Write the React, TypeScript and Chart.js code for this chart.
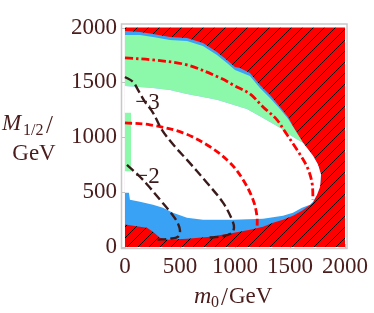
import React, { useEffect, useRef } from "react";
import { Chart, registerables } from "chart.js";

Chart.register(...registerables);

const xTickValues = [0, 500, 1000, 1500, 2000];
const yTickValues = [0, 500, 1000, 1500, 2000];

// scanned parameter plane (red hatched = excluded)
const scanRange = [[0, 0], [2000, 0], [2000, 2000], [0, 2000]];

// outer edge of the non-excluded region (blue)
const blueRegion = [
  [0, 1968], [136, 1959], [255, 1941], [409, 1914], [564, 1905], [709, 1859],
  [836, 1777], [927, 1705], [1000, 1641], [1045, 1632], [1136, 1586], [1227, 1477],
  [1318, 1386], [1409, 1277], [1482, 1186], [1545, 1068], [1618, 950], [1709, 832],
  [1755, 750], [1782, 659], [1773, 550], [1745, 477], [1709, 405], [1609, 332],
  [1527, 286], [1436, 250], [1345, 223], [1255, 186], [1136, 159], [955, 123],
  [773, 95], [564, 77], [382, 68], [318, 86], [255, 141], [200, 177], [136, 186], [0, 205],
];

// upper green band
const greenUpperRegion = [
  [0, 1932], [136, 1932], [255, 1914], [409, 1886], [564, 1877], [709, 1832],
  [836, 1750], [927, 1677], [1000, 1614], [1136, 1559], [1227, 1450], [1318, 1359],
  [1409, 1259], [1482, 1168], [1545, 1068], [1618, 950],
  [1555, 986], [1482, 1032], [1409, 1086], [1255, 1177], [1109, 1259], [955, 1305],
  [836, 1341], [709, 1368], [564, 1395], [409, 1432], [255, 1450], [136, 1459], [0, 1468],
];

// white interior
const whiteRegion = [
  [0, 1468], [136, 1459], [255, 1450], [409, 1432], [564, 1395], [709, 1368],
  [836, 1341], [955, 1305], [1109, 1259], [1255, 1177], [1409, 1086], [1482, 1032],
  [1555, 986], [1618, 950], [1709, 832], [1755, 750], [1782, 659], [1773, 550],
  [1745, 477], [1709, 414], [1682, 386], [1609, 359], [1527, 314], [1436, 286],
  [1255, 259], [982, 250], [709, 250], [564, 268], [436, 314], [345, 359],
  [255, 386], [136, 414], [45, 432], [36, 495], [0, 495],
];

// small green strip at the left edge
const greenStripRegion = [[0, 1223], [55, 1223], [55, 691], [0, 691]];

// contours
const contourDashDot = [
  [0, 1723], [255, 1705], [564, 1659], [864, 1541], [1000, 1468], [1136, 1395],
  [1255, 1277], [1382, 1159], [1455, 1050], [1564, 886], [1655, 732], [1700, 586], [1709, 432],
];
const contourDashed = [
  [0, 1132], [227, 1114], [527, 1041], [773, 914], [955, 768], [1073, 614],
  [1164, 432], [1200, 277], [1200, 150],
];
const contourMinus3 = [
  [0, 1550], [73, 1505], [118, 1432], [182, 1323], [255, 1223], [336, 1068],
  [455, 914], [564, 795], [745, 586], [891, 405], [973, 250], [991, 177],
  [964, 123], [864, 95], [755, 86],
];
const contourMinus2 = [
  [18, 750], [136, 641], [227, 541], [318, 432], [409, 323], [473, 232],
  [500, 150], [482, 95], [409, 77], [291, 68],
];

const contourLabels = ["\u22123", "\u22122"];
const contourLabelPos = [[205, 1314], [205, 641]];

const TEXT = "#4a1c1c";
const SERIF = '"Liberation Serif", "Times New Roman", serif';
const RED = "#ff0000";
const BLUE = "#3aa2f4";
const GREEN = "#8cf8aa";
const DARK = "#3a1a1a";

const toPts = (arr: number[][]) => arr.map(([x, y]) => ({ x, y }));

function makeHatch(): CanvasPattern | string {
  const s = 11;
  const c = document.createElement("canvas");
  c.width = s;
  c.height = s;
  const g = c.getContext("2d");
  if (!g) return RED;
  g.fillStyle = RED;
  g.fillRect(0, 0, s, s);
  g.strokeStyle = "#000000";
  g.lineWidth = 1;
  g.beginPath();
  g.moveTo(-1, s + 1);
  g.lineTo(s + 1, -1);
  g.moveTo(-1, 1);
  g.lineTo(1, -1);
  g.moveTo(s - 1, s + 1);
  g.lineTo(s + 1, s - 1);
  g.stroke();
  return g.createPattern(c, "repeat") || RED;
}

function region(data: number[][], color: any, order: number) {
  return {
    data: toPts(data),
    showLine: true,
    fill: "shape",
    backgroundColor: color,
    borderColor: "rgba(0,0,0,0)",
    borderWidth: 0,
    pointRadius: 0,
    tension: 0,
    order,
  };
}

function contour(data: number[][], color: string, width: number, dash: number[], order: number) {
  return {
    data: toPts(data),
    showLine: true,
    fill: false,
    borderColor: color,
    borderWidth: width,
    borderDash: dash,
    borderCapStyle: "butt",
    pointRadius: 0,
    tension: 0.35,
    order,
  };
}

const framePlugin = {
  id: "frameAndTitles",
  beforeDatasetsDraw(chart: any) {
    const { ctx, chartArea: a, scales } = chart;
    ctx.save();
    ctx.strokeStyle = "#c4c4c4";
    ctx.lineWidth = 1;
    ctx.beginPath();
    for (const v of xTickValues) {
      const px = Math.round(scales.x.getPixelForValue(v)) + 0.5;
      ctx.moveTo(px, a.bottom);
      ctx.lineTo(px, a.bottom - 4);
    }
    for (const v of yTickValues) {
      const py = Math.round(scales.y.getPixelForValue(v)) + 0.5;
      ctx.moveTo(a.left, py);
      ctx.lineTo(a.left + 4, py);
    }
    ctx.stroke();
    ctx.restore();
  },
  afterDraw(chart: any) {
    const { ctx, chartArea: a, scales } = chart;
    ctx.save();
    ctx.strokeStyle = "#c8c8c8";
    ctx.lineWidth = 1.5;
    ctx.strokeRect(a.left - 0.5, a.top, a.right - a.left + 0.5, a.bottom - a.top + 0.5);

    // contour labels
    ctx.fillStyle = DARK;
    ctx.font = `23px ${SERIF}`;
    ctx.textAlign = "center";
    ctx.textBaseline = "middle";
    contourLabels.forEach((t, i) => {
      const [mx, my] = contourLabelPos[i];
      ctx.fillText(t, scales.x.getPixelForValue(mx), scales.y.getPixelForValue(my));
    });

    // axis titles
    ctx.fillStyle = TEXT;
    ctx.textAlign = "left";
    ctx.textBaseline = "alphabetic";
    ctx.font = `italic 23px ${SERIF}`;
    ctx.fillText("M", 2, 130);
    ctx.font = `16px ${SERIF}`;
    ctx.fillText("1/2", 23, 135);
    ctx.font = `25px ${SERIF}`;
    ctx.fillText("/", 46, 133);
    ctx.font = `23px ${SERIF}`;
    ctx.textAlign = "center";
    ctx.fillText("GeV", 34, 160);

    ctx.textAlign = "left";
    ctx.font = `italic 24px ${SERIF}`;
    ctx.fillText("m", 194, 303);
    ctx.font = `16px ${SERIF}`;
    ctx.fillText("0", 211, 307);
    ctx.font = `25px ${SERIF}`;
    ctx.fillText("/", 221, 305);
    ctx.font = `23px ${SERIF}`;
    ctx.fillText("GeV", 229, 303);
    ctx.restore();
  },
};

export default function App() {
  const ref = useRef<HTMLCanvasElement | null>(null);

  useEffect(() => {
    document.body.style.margin = "0";
    const canvas = ref.current;
    if (!canvas) return;
    const hatch = makeHatch();
    const chart = new Chart(canvas, {
      type: "scatter",
      data: {
        datasets: [
          contour(contourMinus2, DARK, 2.4, [9, 4], 1) as any,
          contour(contourMinus3, DARK, 2.4, [9, 4], 2) as any,
          contour(contourDashed, RED, 2.8, [7, 3.5], 3) as any,
          contour(contourDashDot, RED, 2.8, [8, 3, 2.5, 3], 4) as any,
          region(greenStripRegion, GREEN, 5) as any,
          region(whiteRegion, "#ffffff", 6) as any,
          region(greenUpperRegion, GREEN, 7) as any,
          region(blueRegion, BLUE, 8) as any,
          region(scanRange, hatch, 9) as any,
        ],
      },
      options: {
        responsive: false,
        devicePixelRatio: 1,
        animation: false,
        events: [],
        layout: { padding: { top: 24, right: 27, left: 0, bottom: 0 } },
        plugins: { legend: { display: false }, tooltip: { enabled: false } },
        scales: {
          x: {
            type: "linear",
            min: -27,
            max: 2018,
            grid: { display: false, drawTicks: false },
            border: { display: false },
            afterBuildTicks: (axis: any) => {
              axis.ticks = xTickValues.map((v) => ({ value: v }));
            },
            afterFit: (scale: any) => {
              scale.height = 65;
            },
            ticks: {
              autoSkip: false,
              maxRotation: 0,
              padding: 5,
              color: TEXT,
              font: { family: SERIF, size: 23 },
              callback: (v: any) => String(v),
            },
          },
          y: {
            type: "linear",
            min: -8,
            max: 2032,
            grid: { display: false, drawTicks: false },
            border: { display: false },
            afterBuildTicks: (axis: any) => {
              axis.ticks = yTickValues.map((v) => ({ value: v }));
            },
            afterFit: (scale: any) => {
              scale.width = 122;
            },
            ticks: {
              autoSkip: false,
              padding: 5,
              color: TEXT,
              font: { family: SERIF, size: 23 },
              callback: (v: any) => String(v),
            },
          },
        },
      } as any,
      plugins: [framePlugin],
    });
    return () => chart.destroy();
  }, []);

  return (
    <div style={{ width: 374, height: 313 }}>
      <canvas ref={ref} width={374} height={313} style={{ display: "block" }} />
    </div>
  );
}
